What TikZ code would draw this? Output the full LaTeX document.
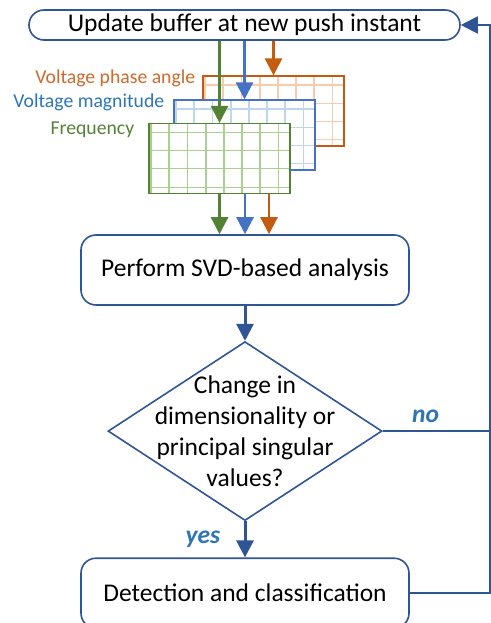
\documentclass[tikz,border=0pt]{standalone}
\usepackage{fontspec}
\setmainfont{Carlito}
\usetikzlibrary{calc, positioning, arrows.meta, shapes.geometric}
\definecolor{flowblue}{HTML}{2F5597}
\definecolor{answerblue}{HTML}{2E75B6}
\definecolor{freqgreen}{HTML}{548235}
\definecolor{freqlight}{HTML}{A9D18E}
\definecolor{magblue}{HTML}{4472C4}
\definecolor{magtext}{HTML}{2E75B6}
\definecolor{maglight}{HTML}{BDD7EE}
\definecolor{phaseorange}{HTML}{C55A11}
\definecolor{phasetext}{HTML}{D0692A}
\definecolor{phaselight}{HTML}{F8CBAD}
\newcommand{\flowfont}{\fontsize{25.5}{31}\selectfont}
\newcommand{\labelfont}{\fontsize{19.7}{24}\selectfont}
\tikzset{start box/.style={draw=flowblue, line width=1.6pt, rectangle, rounded corners=15pt, minimum width=431pt, minimum height=30pt, inner sep=0pt, font=\flowfont}}
\tikzset{process/.style={draw=flowblue, line width=1.6pt, rectangle, rounded corners=15pt, minimum width=328pt, minimum height=70pt, inner sep=0pt, font=\flowfont}}
\tikzset{decision/.style={draw=flowblue, line width=1.6pt, diamond, minimum width=274pt, minimum height=179pt, inner sep=0pt}}
\tikzset{flow text/.style={font=\flowfont, inner sep=0pt}}
\tikzset{sheet label/.style={font=\labelfont, inner sep=0pt}}
\tikzset{answer/.style={font=\flowfont\bfseries\itshape, text=answerblue}}
\tikzset{data sheet/.style 2 args={draw=#1, line width=1.2pt, fill=white, rectangle, minimum width=141pt, minimum height=70pt, inner sep=0pt,
  path picture={
    \foreach \k in {0,...,7}
      \draw[#2, line width=1.8pt] ($(path picture bounding box.north west)+(2+18.2*\k,0)$) -- ++(0,75);
    \foreach \k in {0,...,3}
      \draw[#2, line width=1.1pt] ($(path picture bounding box.north west)+(0,9+18.2*\k)$) -- ++(150,0);
  }}}
\tikzset{flow arrow/.style={draw=flowblue, line width=3pt, -{Triangle[width=17pt,length=17pt]}}}
\tikzset{flow line/.style={draw=flowblue, line width=2pt}}
\tikzset{sheet arrow/.style={draw=#1, line width=2.5pt, -{Triangle[width=17pt,length=17pt]}}}

\begin{document}
\begin{tikzpicture}[x=1pt, y=-1pt]
\useasboundingbox (0,0) rectangle (490,623);
\node[start box] (update) at (244.5,25) {Update buffer at new push instant};
% buffered measurement windows
\node[data sheet={phaseorange}{phaselight}] (phasesheet) at (273.5,111) {};
\node[data sheet={magblue}{maglight}] (magsheet) at (244.5,135) {};
\node[data sheet={freqgreen}{freqlight}] (freqsheet) at (219.5,158.5) {};
\node[sheet label, text=phasetext, left=7pt of phasesheet.north west, yshift=-3pt] (phaselabel) {Voltage phase angle};
\node[sheet label, text=magtext, left=9pt of magsheet.north west, yshift=-3pt] (maglabel) {Voltage magnitude};
\node[sheet label, text=freqgreen, left=14pt of freqsheet.north west, yshift=-7pt] (freqlabel) {Frequency};
\node[process] (svd) at (245,270) {Perform SVD-based analysis};
\node[decision, below=35pt of svd] (decide) {};
\node[flow text, align=center] (decidetext) at (decide.center) {Change in\\dimensionality or\\principal singular\\values?};
\node[process, below=36pt of decide] (detect) {Detection and classification};
\coordinate (loop) at ([xshift=80pt]detect.east);
\draw[sheet arrow=phaseorange] (update.south -| phasesheet.north) -- (phasesheet.north);
\draw[sheet arrow=magblue] (update.south -| magsheet.north) -- (magsheet.north);
\draw[sheet arrow=freqgreen] (update.south -| freqsheet.north) -- (freqsheet.north);
\draw[sheet arrow=freqgreen] (freqsheet.south) -- (freqsheet.south |- svd.north);
\draw[sheet arrow=magblue] (freqsheet.south -| svd.north) -- (svd.north);
\draw[sheet arrow=phaseorange] ($(freqsheet.south -| svd.north)+(24,0)$) -- ($(svd.north)+(24,0)$);
\draw[flow arrow] (svd) -- (decide);
\draw[flow arrow] (decide) -- node[answer, left=20pt] (yes) {yes} (detect);
\draw[flow arrow, line width=2pt] (detect.east) -- (loop) |- (update.east);
\draw[flow line] (decide.east) -- node[answer, above=4pt, pos=0.40] (no) {no} (decide.east -| loop);
\end{tikzpicture}
\end{document}
